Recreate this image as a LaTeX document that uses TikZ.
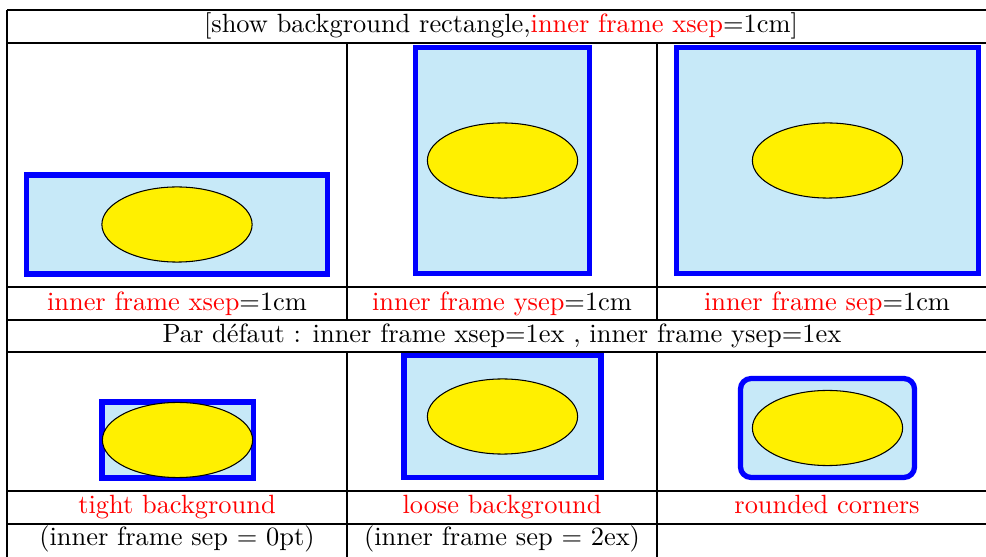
\documentclass[tikz,border=0pt]{standalone}
\usetikzlibrary{shapes.geometric,fit,backgrounds}
\definecolor{bleuclair}{RGB}{199,233,248}
\definecolor{jaune}{RGB}{255,240,0}
\tikzset{
  oeuf/.style={ellipse,draw,fill=jaune,minimum width=2cm,minimum height=1cm},
  cadre/.style={draw=blue,line width=2pt,fill=bleuclair,inner xsep=1ex,inner ysep=1ex},
  legende/.style={anchor=base,inner sep=0pt},
}
\newcommand{\rouge}[1]{\textcolor{red}{#1}}
\begin{document}
\begin{tikzpicture}[x=0.3788pt,y=-0.3788pt]
	\useasboundingbox (0,0) rectangle (986,557);
	% lignes du tableau
	\foreach \y in {10,43,287,320,352,491,524} \draw (7,\y)--(986,\y);
	\draw (7,10)--(7,557);
	\foreach \x in {347,657} {\draw (\x,43)--(\x,287); \draw (\x,287)--(\x,320); \draw (\x,352)--(\x,557);}
	% textes
	\node[legende] (t0) at (501,33) {[show background rectangle,\rouge{inner frame xsep}=1cm]};
	\node[legende] (t1) at (177,311) {\rouge{inner frame xsep}=1cm};
	\node[legende] (t2) at (502,311) {\rouge{inner frame ysep}=1cm};
	\node[legende] (t3) at (827,311) {\rouge{inner frame sep}=1cm};
	\node[legende] (t4) at (502,343) {Par défaut : inner frame xsep=1ex , inner frame ysep=1ex};
	\node[legende] (t5) at (177,513) {\rouge{tight background}};
	\node[legende] (t6) at (502,513) {\rouge{loose background}};
	\node[legende] (t7) at (827,513) {\rouge{rounded corners}};
	\node[legende] (t8) at (177,546) {(inner frame sep $=$ 0pt)};
	\node[legende] (t9) at (502,546) {(inner frame sep $=$ 2ex)};
	% ellipses
	\node[oeuf] (e1) at (177,224.5) {};
	\node[oeuf] (e2) at (502.5,160.5) {};
	\node[oeuf] (e3) at (827.5,160.5) {};
	\node[oeuf] (e4) at (177.5,440) {};
	\node[oeuf] (e5) at (502.5,416.5) {};
	\node[oeuf] (e6) at (827.5,428) {};
	% cadres de fond
	\begin{scope}[on background layer]
		\node[cadre,inner xsep=1cm,fit=(e1)] (f1) {};
		\node[cadre,inner ysep=1cm,fit=(e2)] (f2) {};
		\node[cadre,inner sep=1cm,fit=(e3)] (f3) {};
		\node[cadre,inner sep=0pt,fit=(e4)] (f4) {};
		\node[cadre,inner sep=2ex,fit=(e5)] (f5) {};
		\node[cadre,rounded corners,fit=(e6)] (f6) {};
	\end{scope}
\end{tikzpicture}
\end{document}
